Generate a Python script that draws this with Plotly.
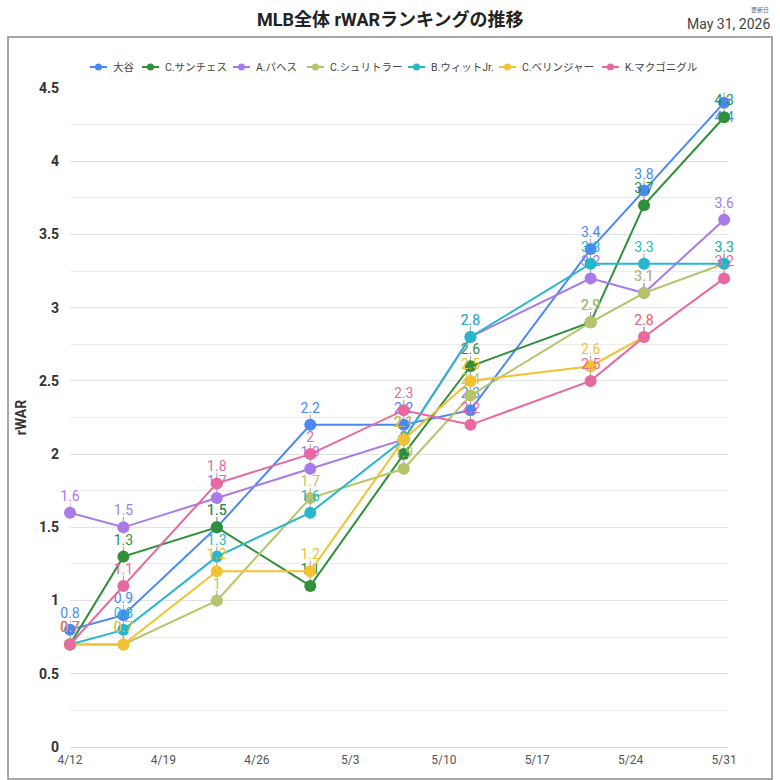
import plotly.graph_objects as go

dates = ["2026-04-12", "2026-04-16", "2026-04-23", "2026-04-30", "2026-05-07",
         "2026-05-12", "2026-05-21", "2026-05-25", "2026-05-31"]

players = ["大谷", "C.サンチェス", "A.パヘス", "C.シュリトラー", "B.ウィットJr.", "C.ベリンジャー", "K.マクゴニグル"]

ohtani    = [0.8, 0.9, 1.5, 2.2, 2.2, 2.3, 3.4, 3.8, 4.4]
sanchez   = [0.7, 1.3, 1.5, 1.1, 2.0, 2.6, 2.9, 3.7, 4.3]
pages     = [1.6, 1.5, 1.7, 1.9, 2.1, 2.8, 3.2, 3.1, 3.6]
schlittler= [0.7, 0.7, 1.0, 1.7, 1.9, 2.4, 2.9, 3.1, 3.3]
witt      = [0.7, 0.8, 1.3, 1.6, 2.1, 2.8, 3.3, 3.3, 3.3]
bellinger = [0.7, 0.7, 1.2, 1.2, 2.1, 2.5, 2.6, 2.8, None]
mcgonigle = [0.7, 1.1, 1.8, 2.0, 2.3, 2.2, 2.5, 2.8, 3.2]

series = [ohtani, sanchez, pages, schlittler, witt, bellinger, mcgonigle]
colors = ["#4a89f3", "#2f8f3a", "#a97ae8", "#b7c46b", "#27b7cb", "#f1c232", "#e8699f"]

tick_dates = ["2026-04-12", "2026-04-19", "2026-04-26", "2026-05-03", "2026-05-10",
              "2026-05-17", "2026-05-24", "2026-05-31"]
tick_labels = ["4/12", "4/19", "4/26", "5/3", "5/10", "5/17", "5/24", "5/31"]

title_text = "MLB全体 rWARランキングの推移"
updated_label = "更新日"
updated_date = "May 31, 2026"

NARROW = "Liberation Sans Narrow, Roboto, Noto Sans CJK JP, sans-serif"
SANS = "Roboto, Arial, Noto Sans CJK JP, sans-serif"

# layout geometry (pixels)
PL, PR, PT, PB = 70, 728, 88, 747
PW, PH = PR - PL, PB - PT
def px_x(p): return (p - PL) / PW
def px_y(p): return (PB - p) / PH

# legend symbol start positions (pixels)
legend_sym_x = [90, 142, 233, 307, 408, 499, 602]
LEGEND_Y = 67

fig = go.Figure()
for name, vals, col in zip(players, series, colors):
    xs = [d for d, v in zip(dates, vals) if v is not None]
    ys = [v for v in vals if v is not None]
    texts = [f"{v:g}" for v in ys]
    pos = ["top center"] * len(ys)
    if name == "大谷":
        pos[-1] = "bottom center"
    fig.add_trace(go.Scatter(
        x=xs, y=ys, name=name, mode="lines+markers+text",
        text=texts, textposition=pos,
        textfont=dict(family=SANS, size=14, color=col),
        line=dict(color=col, width=2),
        marker=dict(color=col, size=12),
        error_y=dict(type="data", symmetric=False,
                     array=[0.07] * len(ys), arrayminus=[0.04] * len(ys),
                     color="#a0a0a0", thickness=1, width=0),
        cliponaxis=False, showlegend=False,
    ))

# legend row (line + dot + label), as in the reference
for name, col, sx in zip(players, colors, legend_sym_x):
    fig.add_shape(type="line", xref="paper", yref="paper",
                  x0=px_x(sx), x1=px_x(sx + 17), y0=px_y(LEGEND_Y), y1=px_y(LEGEND_Y),
                  line=dict(color=col, width=2))
    fig.add_shape(type="circle", xref="paper", yref="paper",
                  xsizemode="pixel", ysizemode="pixel",
                  xanchor=px_x(sx + 8.5), yanchor=px_y(LEGEND_Y),
                  x0=-3.5, x1=3.5, y0=-3.5, y1=3.5,
                  line=dict(color=col, width=0), fillcolor=col)
    fig.add_annotation(text=name, xref="paper", yref="paper",
                       x=px_x(sx + 21), y=px_y(LEGEND_Y), xanchor="left", yanchor="middle",
                       showarrow=False, font=dict(family=SANS, size=10.5, color="#444"))

fig.update_layout(
    width=780, height=780,
    margin=dict(l=PL, r=780 - PR, t=PT, b=780 - PB),
    paper_bgcolor="white", plot_bgcolor="white",
    showlegend=False,
    font=dict(family=SANS),
)

fig.update_xaxes(
    type="date",
    range=["2026-04-12", "2026-05-31 07:00"],
    tickvals=tick_dates, ticktext=tick_labels,
    showgrid=False, zeroline=False, showline=False,
    tickfont=dict(family=NARROW, size=12, color="#555"),
    ticks="", ticklabelstandoff=4,
)
fig.update_yaxes(
    range=[0, 4.5], dtick=0.5, tick0=0,
    showgrid=True, gridcolor="#e3e3e3", gridwidth=1,
    minor=dict(dtick=0.25, showgrid=True, gridcolor="#ececec", gridwidth=1),
    zeroline=True, zerolinecolor="#d8d8d8", zerolinewidth=1,
    showline=False, ticks="",
    tickfont=dict(family=NARROW, size=14, color="#333", weight="bold"),
    ticklabelstandoff=10,
    title=dict(text="<b>rWAR</b>", font=dict(family=NARROW, size=14, color="#333"), standoff=8),
)

fig.add_shape(type="rect", xref="paper", yref="paper",
              x0=px_x(8), x1=px_x(772), y0=px_y(779), y1=px_y(37),
              line=dict(color="#8a8a8a", width=1.5), fillcolor="rgba(0,0,0,0)", layer="below")

fig.add_annotation(text=f"<b>{title_text}</b>", xref="paper", yref="paper",
                   x=px_x(390), y=px_y(20), xanchor="center", yanchor="middle",
                   showarrow=False, font=dict(family=NARROW, size=18, color="#222"))
fig.add_annotation(text=updated_label, xref="paper", yref="paper",
                   x=px_x(771), y=px_y(10), xanchor="right", yanchor="middle",
                   showarrow=False, font=dict(family=SANS, size=6, color="#666"))
fig.add_annotation(text=updated_date, xref="paper", yref="paper",
                   x=px_x(772), y=px_y(24), xanchor="right", yanchor="middle",
                   showarrow=False, font=dict(family=NARROW, size=14, color="#444"))

fig.write_html("out.html")
